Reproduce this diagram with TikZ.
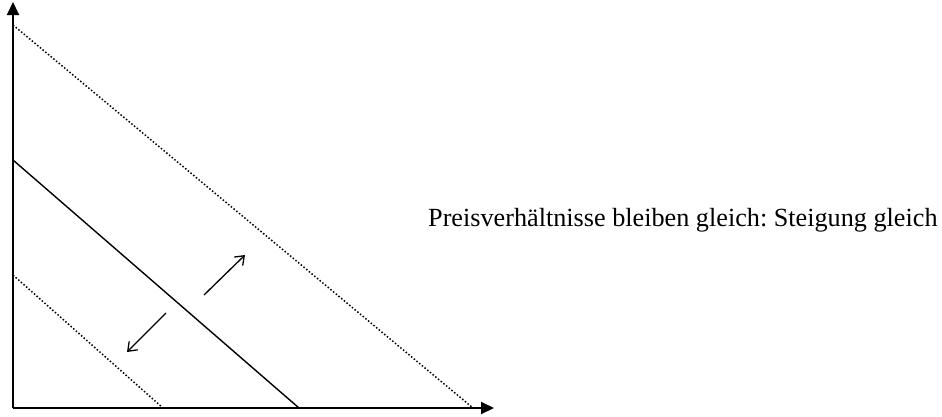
\documentclass[tikz,border=0pt]{standalone}
\usepackage{fontspec}
\setmainfont{Liberation Serif}
\usetikzlibrary{arrows.meta}
\frenchspacing
\tikzset{
    axis/.style={-{Triangle[length=13pt, width=12pt]}, line width=2pt},
    budget/.style={line width=1.4pt},
    shifted/.style={line width=1.5pt, dotted},
    shiftarrow/.style={-{Straight Barb[length=8pt, width=12pt]}, line width=1.3pt},
}
\begin{document}
\begin{tikzpicture}[x=1pt, y=-1pt]
      \useasboundingbox (0,0) rectangle (942,416);

      \coordinate (origin) at (13,408);
      \coordinate (ytop) at (13,2);
      \coordinate (xend) at (494,408);
      \draw[axis] (origin) -- (ytop);
      \draw[axis] (origin) -- (xend);

      % budget lines
      \coordinate (outerY) at (13,25);
      \coordinate (outerX) at (473,408);
      \coordinate (midY) at (13,160);
      \coordinate (midX) at (299,408);
      \coordinate (innerY) at (13,275);
      \coordinate (innerX) at (163,408);
      \draw[shifted] (outerY) -- (outerX);
      \draw[budget] (midY) -- (midX);
      \draw[shifted] (innerY) -- (innerX);

      % shift arrows
      \coordinate (upfrom) at (204,295);
      \coordinate (upto) at (245,255);
      \coordinate (downfrom) at (166,313);
      \coordinate (downto) at (127,352);
      \draw[shiftarrow] (upfrom) -- (upto);
      \draw[shiftarrow] (downfrom) -- (downto);

      \node[anchor=base west, inner sep=0pt, font=\fontsize{26.2}{30}\selectfont] (label) at (428,226) {Preisverhältnisse bleiben gleich: Steigung gleich};
\end{tikzpicture}
\end{document}
